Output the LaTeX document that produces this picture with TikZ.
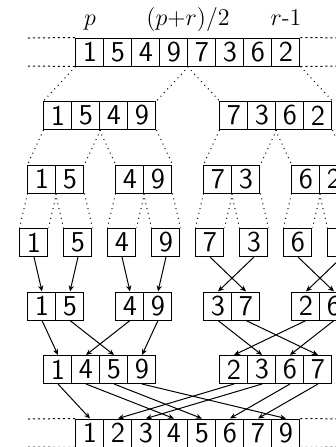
\documentclass[tikz,border=0pt]{standalone}
\usetikzlibrary{arrows.meta}

\tikzset{every picture/.style={line width=0.5pt}}
\tikzset{
  cell/.style={draw,minimum size=14pt,inner sep=0pt,font=\Large\sffamily},
  idx/.style={anchor=base,inner sep=0.75pt,font=\large},
  splitline/.style={dotted},
  bound/.style={dash pattern=on 1pt off 1.5pt},
  mergearrow/.style={-{Stealth[length=3pt,width=2.6pt]}},
}

\begin{document}
\begin{tikzpicture}[x=0.5pt,y=0.5pt,yscale=-1,xscale=1]
        \useasboundingbox (0,0) rectangle (336,447);

        % input
        \foreach \d [count=\i] in {1,5,4,9,7,3,6,2}
          \node[cell] (t\i) at ({62+28*\i},52) {\d};
        \node[idx] (lp) at (90,25) {$p$};
        \node[idx] (lq) at (188,25) {$(p{+}r)/2$};
        \node[idx] (lr) at (286,25) {$r$-1};

        % split
        \foreach \d [count=\i] in {1,5,4,9}
          \node[cell] (ul\i) at ({30+28*\i},115.5) {\d};
        \foreach \d [count=\i] in {7,3,6,2}
          \node[cell] (ur\i) at ({206+28*\i},115.5) {\d};
        \foreach \p/\q [count=\k] in {1/5,4/9,7/3,6/2} {
          \node[cell] (v\k-1) at ({-46+88*\k},179) {\p};
          \node[cell] (v\k-2) at ({-18+88*\k},179) {\q};
        }
        \foreach \d [count=\i] in {1,5,4,9,7,3,6,2}
          \node[cell] (s\i) at ({-10+44*\i},242.5) {\d};

        % merge
        \foreach \p/\q [count=\k] in {1/5,4/9,3/7,2/6} {
          \node[cell] (w\k-1) at ({-46+88*\k},306) {\p};
          \node[cell] (w\k-2) at ({-18+88*\k},306) {\q};
        }
        \foreach \d [count=\i] in {1,4,5,9}
          \node[cell] (m\i) at ({30+28*\i},369.5) {\d};
        \foreach \d [count=\i] in {2,3,6,7}
          \node[cell] (n\i) at ({206+28*\i},369.5) {\d};
        \foreach \d [count=\i] in {1,2,3,4,5,6,7,9}
          \node[cell] (f\i) at ({62+28*\i},433) {\d};

        % bounds of the array
        \coordinate (bl1) at (28,38);
        \coordinate (bl2) at (28,66);
        \coordinate (br1) at (348,38);
        \coordinate (br2) at (348,66);
        \coordinate (bl3) at (28,419);
        \coordinate (bl4) at (28,447);
        \coordinate (br3) at (348,419);
        \coordinate (br4) at (348,447);
        \draw[bound] (bl1) -- (t1.north west) (bl2) -- (t1.south west);
        \draw[bound] (t8.north east) -- (br1) (t8.south east) -- (br2);
        \draw[bound] (bl3) -- (f1.north west) (bl4) -- (f1.south west);
        \draw[bound] (f8.north east) -- (br3) (f8.south east) -- (br4);

        \draw[splitline] (t1.south west) -- (ul1.north west) (t4.south east) -- (ul4.north east)
                         (t5.south west) -- (ur1.north west) (t8.south east) -- (ur4.north east);
        \draw[splitline] (ul1.south west) -- (v1-1.north west) (ul2.south east) -- (v1-2.north east)
                         (ul3.south west) -- (v2-1.north west) (ul4.south east) -- (v2-2.north east)
                         (ur1.south west) -- (v3-1.north west) (ur2.south east) -- (v3-2.north east)
                         (ur3.south west) -- (v4-1.north west) (ur4.south east) -- (v4-2.north east);
        \foreach \k/\a/\b in {1/1/2,2/3/4,3/5/6,4/7/8}
          \draw[splitline] (v\k-1.south west) -- (s\a.north west) (v\k-1.south east) -- (s\a.north east)
                           (v\k-2.south west) -- (s\b.north west) (v\k-2.south east) -- (s\b.north east);

        \foreach \a/\b in {s1/w1-1,s2/w1-2,s3/w2-1,s4/w2-2,s5/w3-2,s6/w3-1,s7/w4-2,s8/w4-1,
                           w1-1/m1,w1-2/m3,w2-1/m2,w2-2/m4,w3-1/n2,w3-2/n4,w4-1/n1,w4-2/n3,
                           m1/f1,m2/f4,m3/f5,m4/f8,n1/f2,n2/f3,n3/f6,n4/f7}
          \draw[mergearrow] (\a.south) -- (\b.north);
    \end{tikzpicture}
\end{document}
